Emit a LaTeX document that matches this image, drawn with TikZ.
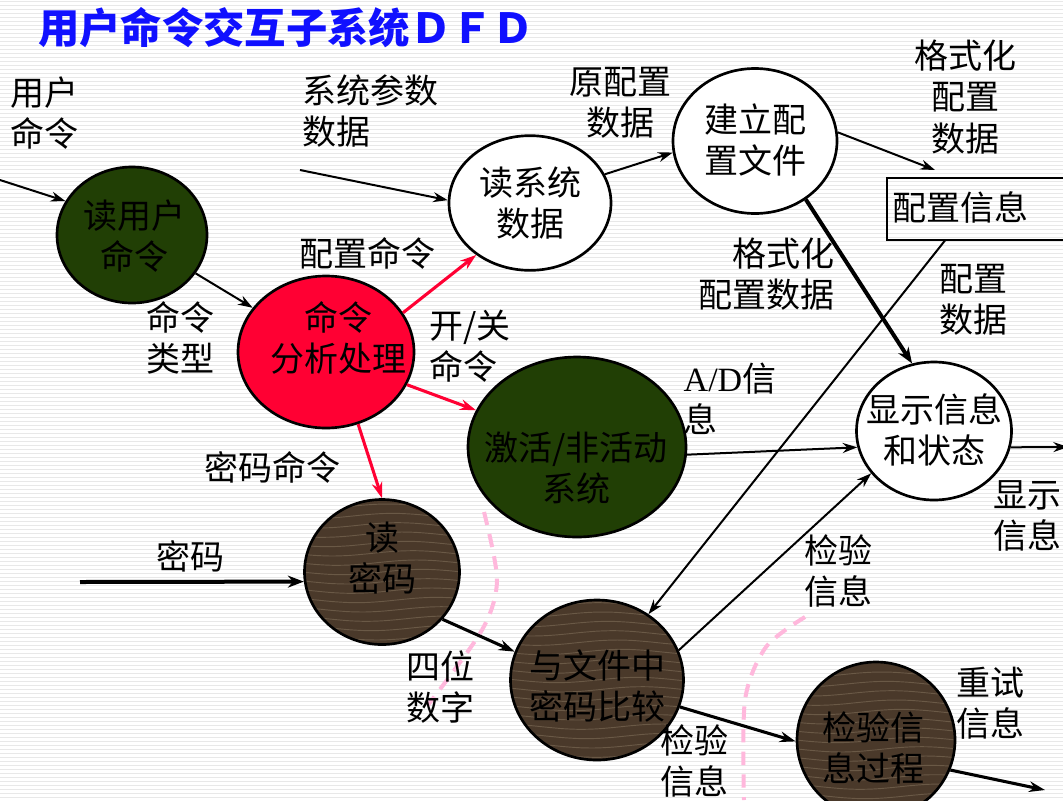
\documentclass[tikz,border=0pt]{standalone}
\usepackage{fontspec}
\setmainfont{Noto Sans CJK SC}
\newfontfamily\serifA{Liberation Serif}
\usetikzlibrary{shapes.geometric,arrows.meta}
\definecolor{dgreen}{HTML}{213F05}
\definecolor{cred}{HTML}{FF0033}
\definecolor{wood}{HTML}{4A392A}
\definecolor{woodlight}{HTML}{9A8A72}
\definecolor{tblue}{HTML}{1010FF}
\definecolor{pinkd}{HTML}{FFB8DC}
\begin{document}
\begin{tikzpicture}[x=0.75pt,y=-0.75pt,
  txt/.style={font=\fontsize{25.5}{31}\selectfont, inner sep=0pt},
  proc/.style={ellipse, draw=black, line width=2pt, inner sep=0pt},
  woodproc/.style={proc, fill=wood, path picture={
      \begin{scope}[shift={(path picture bounding box.center)}]
      \foreach \yy in {-63,-56,...,63}{
        \draw[woodlight, line width=0.7pt, opacity=0.4]
          plot[domain=-75:75, samples=13, smooth] ({\x*1pt}, {(\yy+2*sin(3*\x+53*\yy))*1pt});
      }
      \end{scope}}},
  flow/.style={-{Stealth[length=11pt,width=7.5pt]}, line width=1.5pt},
  flowmid/.style={-{Stealth[length=12pt,width=8pt]}, line width=2.3pt},
  flowthick/.style={-{Stealth[length=12pt,width=9pt]}, line width=3pt},
  redflow/.style={-{Stealth[length=12pt,width=8pt]}, line width=2.3pt, draw=cred},
  pinkdash/.style={draw=pinkd, line width=3pt, dash pattern=on 10pt off 7pt}
]
\useasboundingbox (0,0) rectangle (1063,800);
% background with faint stripes
\fill[white] (0,0) rectangle (1063,800);
\foreach \yy in {1,5,...,799}{\draw[black!9, line width=0.6pt] (0,\yy) -- (1063,\yy);}

% pink dashed traces
\draw[pinkdash] plot[smooth] coordinates {(484,512) (497,580) (482,630) (428,705)};
\draw[pinkdash] plot[smooth] coordinates {(805,617) (766,647) (745,700) (744,800)};

% title
\node[font=\fontsize{31}{36}\selectfont\bfseries, text=tblue, anchor=west, inner sep=0pt] (title) at (38,28) {用户命令交互子系统ＤＦＤ};

% processes
\node[proc, fill=dgreen, minimum width=112.5pt, minimum height=102pt] (rc) at (132,235) {};
\node[txt, align=center] (rct) at (134,236) {读用户\\命令};
\node[proc, fill=cred, minimum width=132pt, minimum height=114pt] (cmd) at (326,352) {};
\node[txt, align=center] (cmdt) at (338,338) {命令\\分析处理};
\node[proc, fill=white, minimum width=121.5pt, minimum height=101pt] (rs) at (530,203) {};
\node[txt, align=center] (rst) at (530,203) {读系统\\数据};
\node[proc, fill=white, minimum width=123pt, minimum height=108.75pt] (bf) at (755,141) {};
\node[txt, align=center] (bft) at (755,140) {建立配\\置文件};
\node[proc, fill=white, minimum width=116.25pt, minimum height=103.5pt] (ds) at (934,431) {};
\node[txt, align=center] (dst) at (934,430) {显示信息\\和状态};
\node[proc, fill=dgreen, minimum width=163.5pt, minimum height=135pt] (act) at (577,447) {};
\node[txt, align=center] (actt) at (576,468) {激活/非活动\\系统};
\node[woodproc, minimum width=116.25pt, minimum height=108.75pt] (rp) at (382,572) {};
\node[txt, align=center] (rpt) at (382,558) {读\\密码};
\node[woodproc, minimum width=129.75pt, minimum height=120pt] (cmp) at (597,680) {};
\node[txt, align=center] (cmpt) at (597,686) {与文件中\\密码比较};
\node[woodproc, minimum width=118.5pt, minimum height=117pt] (chk) at (876,740) {};
\node[txt, align=center] (chkt) at (873,748) {检验信\\息过程};

% data store
\node[minimum width=137.25pt, minimum height=46.5pt, inner sep=0pt] (store) at (978.5,209) {};
\draw[line width=1.5pt] (store.north east) -- (store.north west) -- (store.south west) -- (store.south east);
\node[txt] (storet) at (960,207) {配置信息};

% free ends
\coordinate (inRC) at (0,180);
\coordinate (inRS) at (300,170);
\coordinate (toStore) at (935,170);
\coordinate (inRP) at (80,582);
\coordinate (outDS) at (1068,447);
\coordinate (outCHK) at (1045,790);

% connectors
\draw[flow] (inRC) -- (rc.153);
\draw[flow] (rc) -- (cmd);
\draw[flow] (inRS) -- (rs.178);
\draw[flow] (rs.21) -- (bf.188);
\draw[flow] (bf.6) -- (toStore);
\draw[flowthick] (bf.-49) -- (ds.108);
\draw[flow] ([xshift=-25pt]store.south) -- (cmp.52);
\draw[redflow] (cmd.27) -- (rs.-136);
\draw[redflow] (cmd.-22) -- (act.160);
\draw[redflow] (cmd.-66) -- (rp.90);
\draw[flow] (act.-4) -- (ds.192);
\draw[flow] (ds.-12) -- (outDS);
\draw[flowthick] (inRP) -- (rp.187);
\draw[flowmid] (rp.-38) -- (cmp.161);
\draw[flow] (cmp.20) -- (ds.214);
\draw[flowmid] (cmp.-18) -- (chk.181);
\draw[flowmid] (chk.-22) -- (outCHK);

% labels
\node[txt, align=left] (l1) at (44,113) {用户\\命令};
\node[txt, align=left] (l2) at (370,111) {系统参数\\数据};
\node[txt, align=center] (l3) at (620,103) {原配置\\数据};
\node[txt, align=center] (l4) at (965,97) {格式化\\配置\\数据};
\node[txt, align=right] (l5) at (766,274) {格式化\\配置数据};
\node[txt, align=center] (l6) at (973,300) {配置\\数据};
\node[txt] (l7) at (367,253) {配置命令};
\node[txt, align=center] (l8) at (180,338) {命令\\类型};
\node[txt, align=left] (l9) at (470,346) {开/关\\命令};
\node[txt, align=left] (l10) at (730,399) {{\serifA A/D}信\\息};
\node[txt] (l11) at (272,467) {密码命令};
\node[txt] (l12) at (190,556) {密码};
\node[txt, align=left] (l13) at (440,687) {四位\\数字};
\node[txt, align=left] (l14) at (838,571) {检验\\信息};
\node[txt, align=left] (l15) at (1027,516) {显示\\信息};
\node[txt, align=left] (l16) at (694,761) {检验\\信息};
\node[txt, align=left] (l17) at (990,703) {重试\\信息};
\end{tikzpicture}
\end{document}
